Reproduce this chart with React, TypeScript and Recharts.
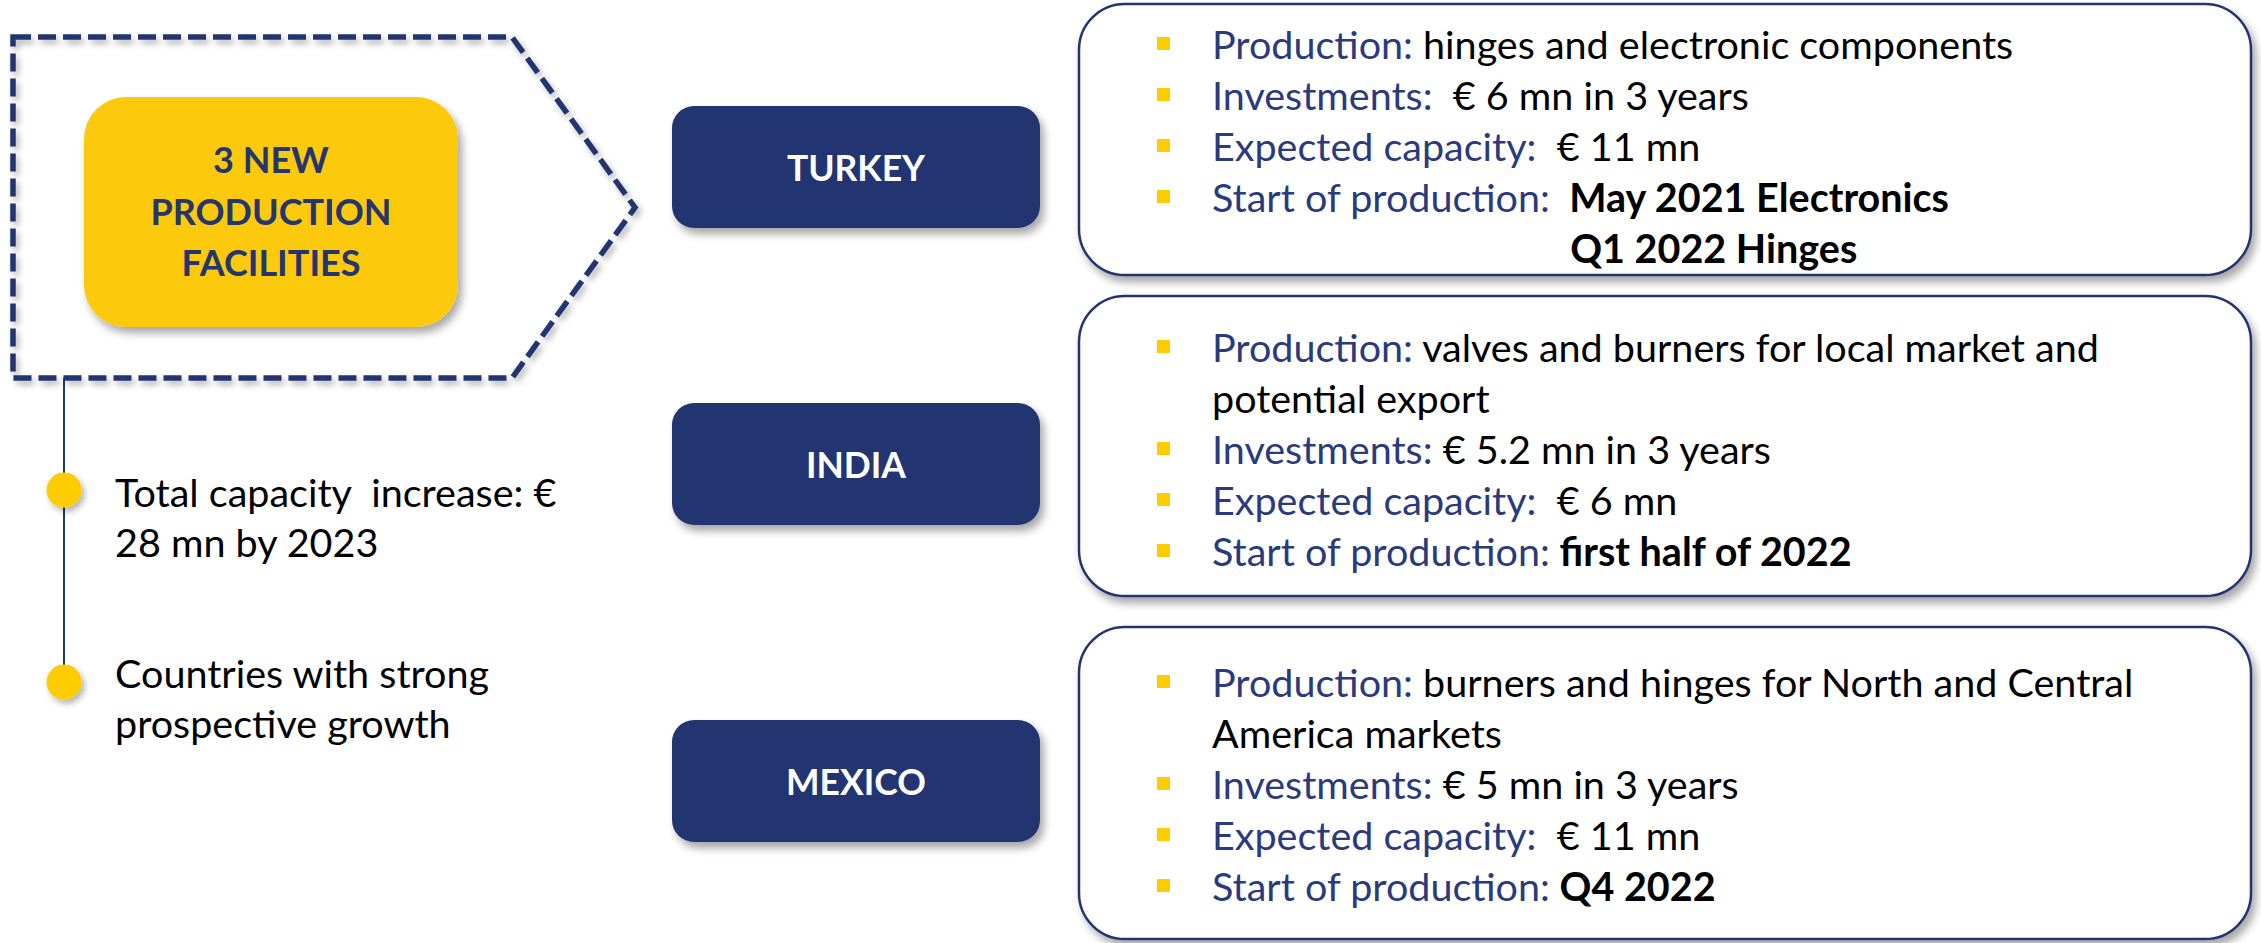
import React from 'react';
import { ScatterChart, Scatter, XAxis, YAxis } from 'recharts';

const W = 2261;
const H = 943;

// ---- content ----
const headline = ['3 NEW', 'PRODUCTION', 'FACILITIES'];
const highlights = [
    ['Total capacity  increase: €', '28 mn by 2023'],
    ['Countries with strong', 'prospective growth'],
];
const countries = ['TURKEY', 'INDIA', 'MEXICO'];
const bulletLabels = ['Production:', 'Investments:', 'Expected capacity:', 'Start of production:'];
const production = [
    ['hinges and electronic components'],
    ['valves and burners for local market and', 'potential export'],
    ['burners and hinges for North and Central', 'America markets'],
];
const investments = ['  € 6 mn in 3 years', ' € 5.2 mn in 3 years', ' € 5 mn in 3 years'];
const capacity = ['  € 11 mn', '  € 6 mn', '  € 11 mn'];
const startOfProduction = [
    ['  May 2021 Electronics', 'Q1 2022 Hinges'],
    [' first half of 2022'],
    [' Q4 2022'],
];

// ---- layout / style ----
const NAVY = '#24356f';
const LABEL = '#2a3a7c';
const YELLOW = '#fdc90e';
const BULLET = '#ffcc00';
const FONT = 'Lato, "Open Sans", sans-serif';
const FS = 39.5;

const FRAME = { left: 13, top: 37, bottom: 378, shoulder: 512, tip: 635 };
const HEAD_BOX = { cx: 271, cy: 212, w: 374, h: 230, baselines: [173, 225, 276] };
const TIMELINE_X = 64;
const DOT_Y = [490, 682];
const HIGHLIGHT_X = 115;
const HIGHLIGHT_BASE = [507, 688];
const COUNTRY_BOX = { cx: 856, w: 368, h: 122 };
const COUNTRY_Y = [167, 464, 781];
const PANEL = { x: 1079, w: 1172 };
const PANEL_TOP = [4, 296, 627];
const PANEL_BOTTOM = [275, 596, 939];
const FIRST_BASE = [59, 362, 697];
const LINE = 51;
const BULLET_X = 1157;
const PANEL_TEXT_X = 1212;

type PanelLine = { bullet: boolean; label: string; value: string; bold: boolean; indent?: string };

const panelLines = (i: number): PanelLine[] => {
    const out: PanelLine[] = [];
    production[i].forEach((t, j) =>
        out.push({ bullet: j === 0, label: j === 0 ? bulletLabels[0] + ' ' : '', value: t, bold: false }));
    out.push({ bullet: true, label: bulletLabels[1], value: investments[i], bold: false });
    out.push({ bullet: true, label: bulletLabels[2], value: capacity[i], bold: false });
    startOfProduction[i].forEach((t, j) =>
        out.push(j === 0
            ? { bullet: true, label: bulletLabels[3], value: t, bold: true }
            : { bullet: false, label: '', value: t, bold: true, indent: bulletLabels[3] + startOfProduction[i][0].match(/^\s*/)![0] }));
    return out;
};

const frameData = [{ x: FRAME.left, y: FRAME.top }];
const headData = [{ x: HEAD_BOX.cx, y: HEAD_BOX.cy, lines: headline }];
const highlightData = highlights.map((lines, i) => ({ x: TIMELINE_X, y: DOT_Y[i], lines, base: HIGHLIGHT_BASE[i] }));
const countryData = countries.map((name, i) => ({ x: COUNTRY_BOX.cx, y: COUNTRY_Y[i], name }));
const panelData = countries.map((name, i) => ({ x: PANEL.x, y: PANEL_TOP[i], idx: i }));

const FrameShape = (p: any) => {
    const { cx, cy } = p;
    const mid = (FRAME.top + FRAME.bottom) / 2;
    const d = `M${cx},${cy} L${FRAME.shoulder},${cy} L${FRAME.tip},${mid} L${FRAME.shoulder},${FRAME.bottom} L${cx},${FRAME.bottom} Z`;
    return (
        <g>
            <defs>
                <filter id="shadow" x="-10%" y="-10%" width="130%" height="140%">
                    <feDropShadow dx="4" dy="6" stdDeviation="4" floodColor="#000" floodOpacity="0.35" />
                </filter>
                <filter id="softShadow" x="-10%" y="-10%" width="130%" height="140%">
                    <feDropShadow dx="3" dy="4" stdDeviation="3" floodColor="#000" floodOpacity="0.3" />
                </filter>
            </defs>
            <line x1={TIMELINE_X} y1={FRAME.bottom} x2={TIMELINE_X} y2={DOT_Y[1]} stroke={NAVY} strokeWidth={2} />
            <path d={d} fill="none" stroke={NAVY} strokeWidth={5.5} strokeDasharray="18 7" strokeLinejoin="miter" filter="url(#softShadow)" />
        </g>
    );
};

const HeadShape = (p: any) => {
    const { cx, cy, payload } = p;
    return (
        <g>
            <rect x={cx - HEAD_BOX.w / 2} y={cy - HEAD_BOX.h / 2} width={HEAD_BOX.w} height={HEAD_BOX.h} rx={42} fill={YELLOW} filter="url(#shadow)" />
            {payload.lines.map((t: string, i: number) => (
                <text key={i} x={cx} y={HEAD_BOX.baselines[i]} textAnchor="middle" fontFamily={FONT} fontWeight={700} fontSize={36} fill={NAVY}>{t}</text>
            ))}
        </g>
    );
};

const HighlightShape = (p: any) => {
    const { cx, cy, payload } = p;
    return (
        <g>
            <circle cx={cx} cy={cy} r={17.5} fill={BULLET} filter="url(#softShadow)" />
            {payload.lines.map((t: string, i: number) => (
                <text key={i} x={HIGHLIGHT_X} y={payload.base + i * 50} fontFamily={FONT} fontSize={FS} fill="#000" style={{ whiteSpace: 'pre' }}>{t}</text>
            ))}
        </g>
    );
};

const CountryShape = (p: any) => {
    const { cx, cy, payload } = p;
    return (
        <g>
            <rect x={cx - COUNTRY_BOX.w / 2} y={cy - COUNTRY_BOX.h / 2} width={COUNTRY_BOX.w} height={COUNTRY_BOX.h} rx={22} fill={NAVY} filter="url(#shadow)" />
            <text x={cx} y={cy + 14} textAnchor="middle" fontFamily={FONT} fontWeight={700} fontSize={35.5} fill="#fff">{payload.name}</text>
        </g>
    );
};

const PanelShape = (p: any) => {
    const { cx, cy, payload } = p;
    const i = payload.idx;
    const h = PANEL_BOTTOM[i] - PANEL_TOP[i];
    return (
        <g>
            <rect x={cx} y={cy} width={PANEL.w} height={h} rx={46} fill="#fff" stroke={NAVY} strokeWidth={2.5} filter="url(#shadow)" />
            {panelLines(i).map((ln, j) => {
                const base = FIRST_BASE[i] + j * LINE;
                return (
                    <g key={j}>
                        {ln.bullet && <rect x={BULLET_X} y={base - 22} width={13} height={13} fill={BULLET} />}
                        <text x={PANEL_TEXT_X} y={base} fontFamily={FONT} fontSize={FS} style={{ whiteSpace: 'pre' }}>
                            {ln.indent && <tspan fill="transparent">{ln.indent}</tspan>}
                            {ln.label && <tspan fill={LABEL}>{ln.label}</tspan>}
                            <tspan fill="#000" fontWeight={ln.bold ? 700 : 400}>{ln.value}</tspan>
                        </text>
                    </g>
                );
            })}
        </g>
    );
};

export default function App() {
    return (
        <div style={{ position: 'absolute', left: 0, top: 0, width: W, height: H, background: '#fff' }}>
            <ScatterChart width={W} height={H} margin={{ top: 0, right: 0, bottom: 0, left: 0 }}>
                <XAxis type="number" dataKey="x" domain={[0, W]} hide />
                <YAxis type="number" dataKey="y" domain={[0, H]} reversed hide />
                <Scatter data={frameData} shape={FrameShape} isAnimationActive={false} />
                <Scatter data={headData} shape={HeadShape} isAnimationActive={false} />
                <Scatter data={highlightData} shape={HighlightShape} isAnimationActive={false} />
                <Scatter data={countryData} shape={CountryShape} isAnimationActive={false} />
                <Scatter data={panelData} shape={PanelShape} isAnimationActive={false} />
            </ScatterChart>
        </div>
    );
}
